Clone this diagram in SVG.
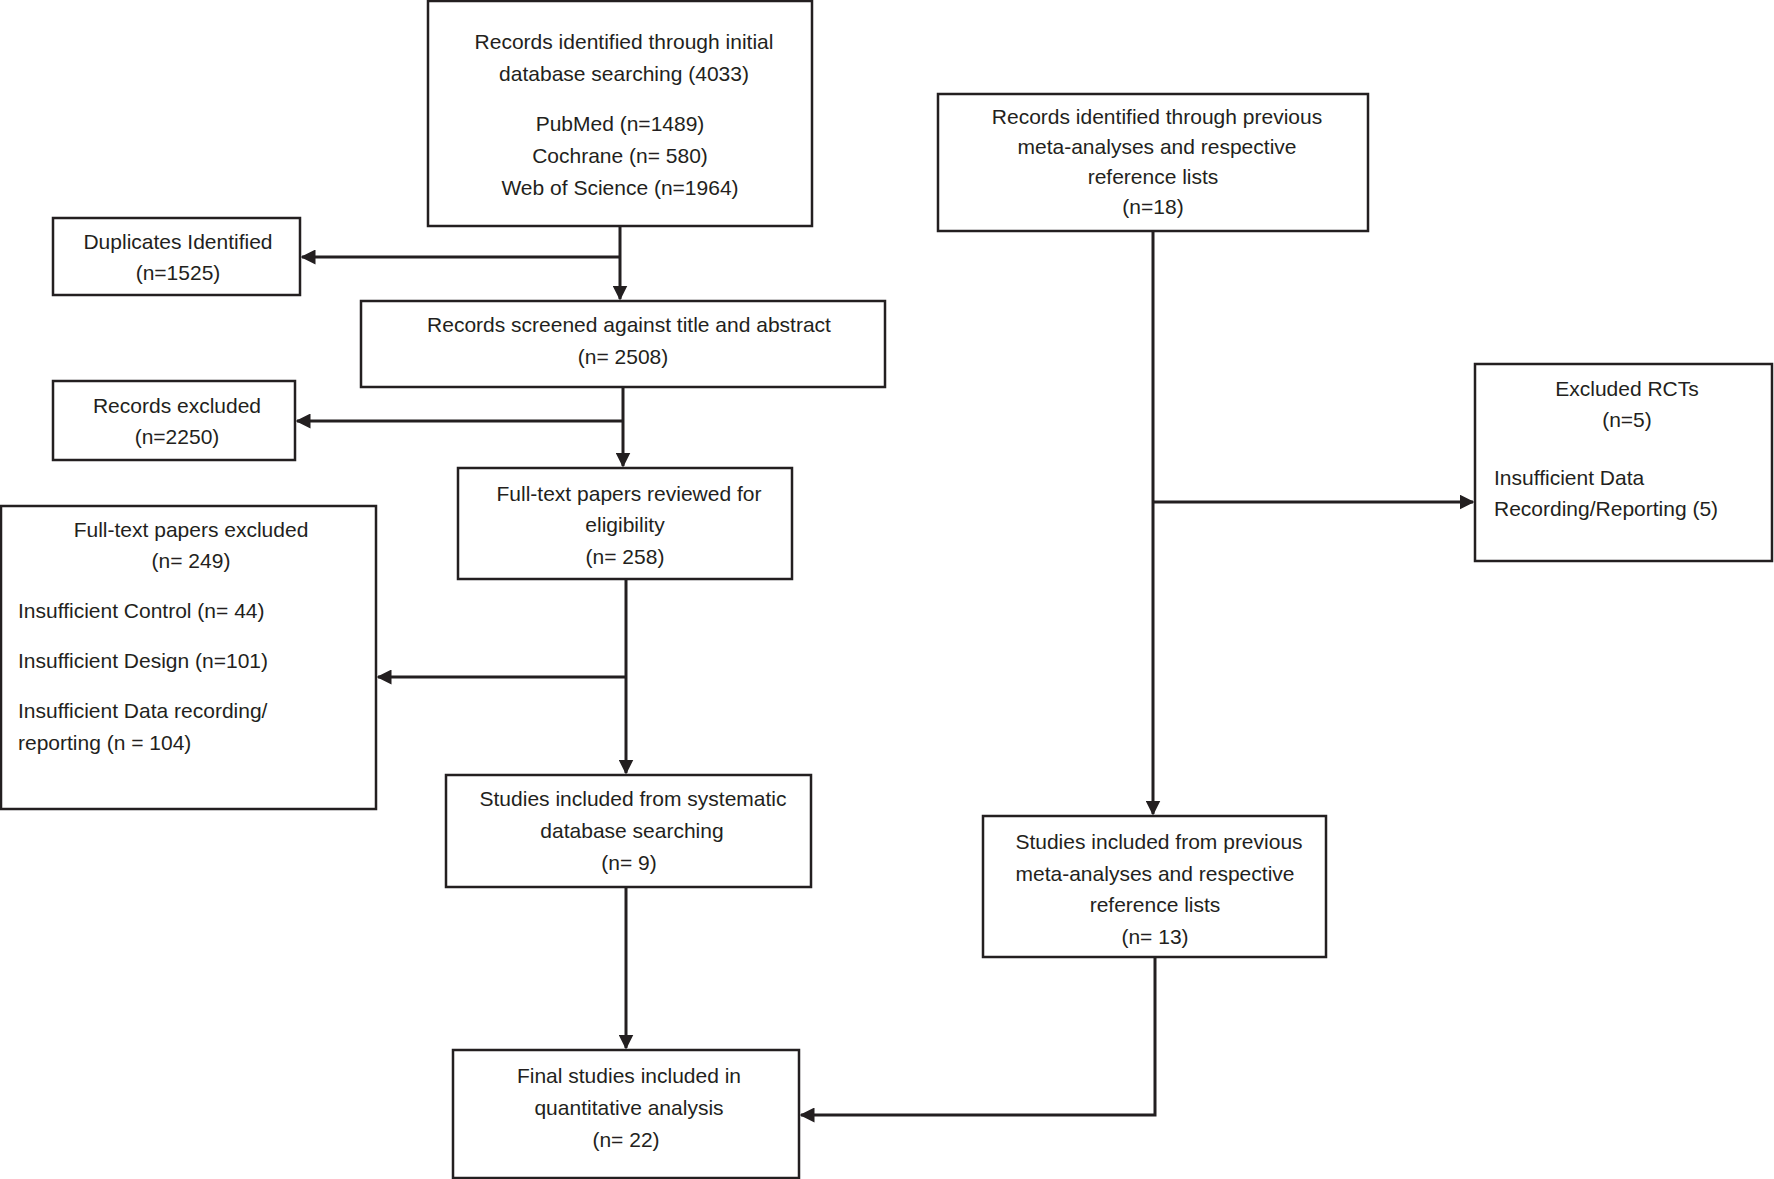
<svg xmlns="http://www.w3.org/2000/svg" width="1774" height="1179" viewBox="0 0 1774 1179">
<style>
.b{fill:#fff;stroke:#231f20;stroke-width:2.5}
text{font-family:"Liberation Sans",Arial,sans-serif;font-size:21px;fill:#231f20}
.c{text-anchor:middle}
.l{fill:none;stroke:#231f20;stroke-width:3}
</style>
<defs><marker id="a" viewBox="0 0 10 10" refX="9" refY="5" markerWidth="5" markerHeight="5" orient="auto"><path d="M0,0L10,5L0,10z" fill="#231f20"/></marker></defs>
<rect width="1774" height="1179" fill="#fff"/>
<g id="n1"><rect class="b" x="428" y="1" width="384" height="225"/>
<text class="c" x="624" y="49">Records identified through initial</text>
<text class="c" x="624" y="81">database searching (4033)</text>
<text class="c" x="620" y="131">PubMed (n=1489)</text>
<text class="c" x="620" y="163">Cochrane (n= 580)</text>
<text class="c" x="620" y="195">Web of Science (n=1964)</text></g>
<g id="n2"><rect class="b" x="53" y="218" width="247" height="77"/>
<text class="c" x="178" y="249">Duplicates Identified</text>
<text class="c" x="178" y="280">(n=1525)</text></g>
<g id="n3"><rect class="b" x="938" y="94" width="430" height="137"/>
<text class="c" x="1157" y="124">Records identified through previous</text>
<text class="c" x="1157" y="154">meta-analyses and respective</text>
<text class="c" x="1153" y="184">reference lists</text>
<text class="c" x="1153" y="214">(n=18)</text></g>
<g id="n4"><rect class="b" x="361" y="301" width="524" height="86"/>
<text class="c" x="629" y="332">Records screened against title and abstract</text>
<text class="c" x="623" y="364">(n= 2508)</text></g>
<g id="n5"><rect class="b" x="53" y="381" width="242" height="79"/>
<text class="c" x="177" y="413">Records excluded</text>
<text class="c" x="177" y="444">(n=2250)</text></g>
<g id="n6"><rect class="b" x="458" y="468" width="334" height="111"/>
<text class="c" x="629" y="501">Full-text papers reviewed for</text>
<text class="c" x="625" y="532">eligibility</text>
<text class="c" x="625" y="564">(n= 258)</text></g>
<g id="n7"><rect class="b" x="1475" y="364" width="297" height="197"/>
<text class="c" x="1627" y="396">Excluded RCTs</text>
<text class="c" x="1627" y="427">(n=5)</text>
<text x="1494" y="485">Insufficient Data</text>
<text x="1494" y="516">Recording/Reporting (5)</text></g>
<g id="n8"><rect class="b" x="1" y="506" width="375" height="303"/>
<text class="c" x="191" y="537">Full-text papers excluded</text>
<text class="c" x="191" y="568">(n= 249)</text>
<text x="18" y="618">Insufficient Control (n= 44)</text>
<text x="18" y="668">Insufficient Design (n=101)</text>
<text x="18" y="718">Insufficient Data recording/</text>
<text x="18" y="750">reporting (n = 104)</text></g>
<g id="n9"><rect class="b" x="446" y="775" width="365" height="112"/>
<text class="c" x="633" y="806">Studies included from systematic</text>
<text class="c" x="632" y="838">database searching</text>
<text class="c" x="629" y="870">(n= 9)</text></g>
<g id="n10"><rect class="b" x="983" y="816" width="343" height="141"/>
<text class="c" x="1159" y="849">Studies included from previous</text>
<text class="c" x="1155" y="881">meta-analyses and respective</text>
<text class="c" x="1155" y="912">reference lists</text>
<text class="c" x="1155" y="944">(n= 13)</text></g>
<g id="n11"><rect class="b" x="453" y="1050" width="346" height="128"/>
<text class="c" x="629" y="1083">Final studies included in</text>
<text class="c" x="629" y="1115">quantitative analysis</text>
<text class="c" x="626" y="1147">(n= 22)</text></g>
<g id="connectors">
<path class="l" d="M620,226V299" marker-end="url(#a)"/>
<path class="l" d="M620,257H302" marker-end="url(#a)"/>
<path class="l" d="M623,387V466" marker-end="url(#a)"/>
<path class="l" d="M623,421H297" marker-end="url(#a)"/>
<path class="l" d="M626,579V773" marker-end="url(#a)"/>
<path class="l" d="M626,677H378" marker-end="url(#a)"/>
<path class="l" d="M626,887V1048" marker-end="url(#a)"/>
<path class="l" d="M1153,231V814" marker-end="url(#a)"/>
<path class="l" d="M1153,502H1473" marker-end="url(#a)"/>
<path class="l" d="M1155,957V1115H801" marker-end="url(#a)"/>
</g>
</svg>
